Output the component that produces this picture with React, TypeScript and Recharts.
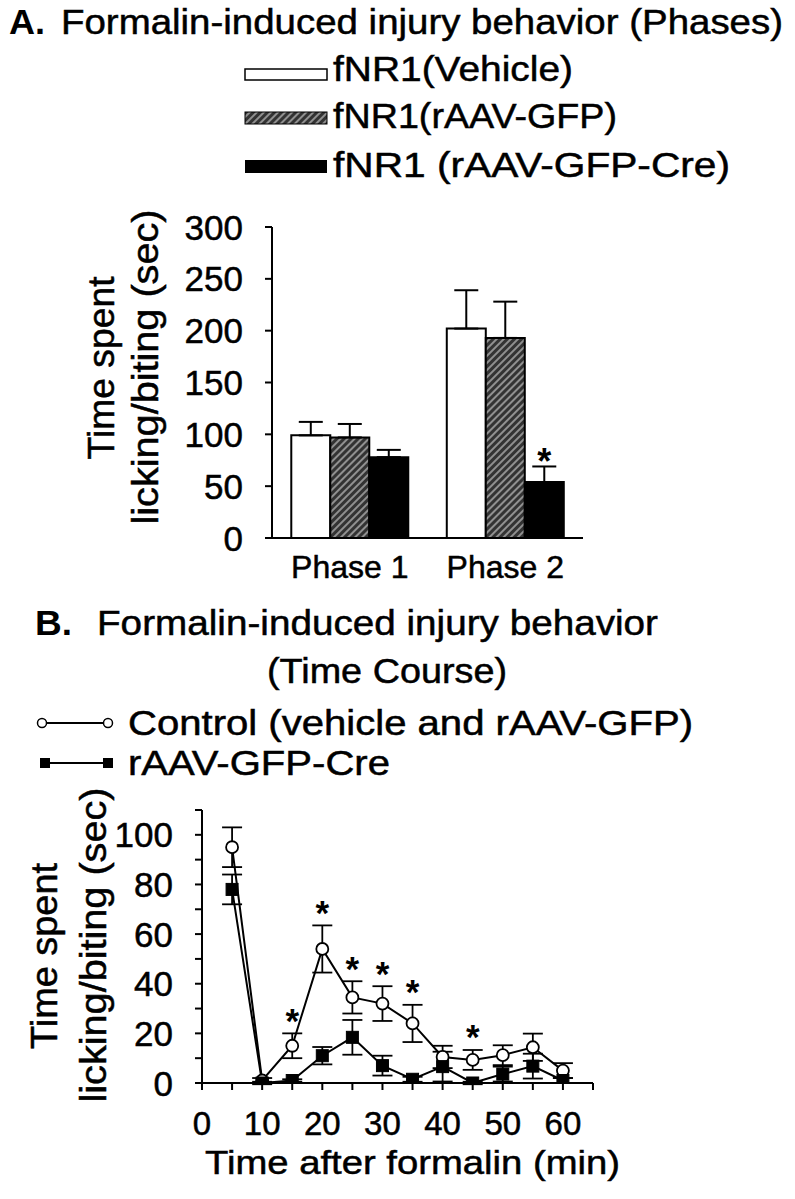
import React from 'react';
import { BarChart, ComposedChart, Bar, XAxis, YAxis, ErrorBar, LabelList, Line, Scatter } from 'recharts';

const FONT = '"Liberation Sans", Arial, Helvetica, sans-serif';

// ---------- Panel A data ----------
const phases = ['Phase 1', 'Phase 2'];
const vehicleMean = [99, 202];
const vehicleErr = [13, 37];
const gfpMean = [97, 193];
const gfpErr = [13, 35];
const creMean = [78, 54];
const creErr = [7, 15];
const creSig = [false, true];
const yTicksA = [0, 50, 100, 150, 200, 250, 300];

// ---------- Panel B data ----------
const times = [5, 10, 15, 20, 25, 30, 35, 40, 45, 50, 55, 60];
const controlMean = [95, 1, 15, 54, 34.5, 32, 24, 10.5, 9.3, 11.2, 14.4, 5];
const controlErr = [8, 1, 5, 9.5, 6.5, 7, 7.5, 4.5, 4, 4, 5.5, 3];
const controlSig = [false, false, true, true, true, true, true, false, true, false, false, false];
const creTMean = [78, 0, 1, 11, 18.4, 7, 1.5, 6.6, 0, 3.6, 6.8, 1];
const creTErr = [6, 0.5, 0.5, 3.5, 7, 4, 1, 6, 0.5, 3, 5, 1];
const xTicksB = [0, 5, 10, 15, 20, 25, 30, 35, 40, 45, 50, 55, 60, 65];
const xLabelsB = [0, 10, 20, 30, 40, 50, 60];
const yTicksB = [0, 10, 20, 30, 40, 50, 60, 70, 80, 90, 100, 110];
const yLabelsB = [0, 20, 40, 60, 80, 100];

const dataA = phases.map((p, i) => ({
  phase: p,
  vehicle: vehicleMean[i],
  vehicleE: [0, vehicleErr[i]],
  gfp: gfpMean[i],
  gfpE: [0, gfpErr[i]],
  cre: creMean[i],
  creE: [0, creErr[i]],
}));

const controlData = times.map((t, i) => ({ t, mean: controlMean[i], err: controlErr[i] }));
const creData = times.map((t, i) => ({ t, mean: creTMean[i], err: creTErr[i] }));
const starsB = times
  .map((t, i) => ({ t, top: controlMean[i] + controlErr[i], sig: controlSig[i] }))
  .filter((d) => d.sig);

const TXT_STROKE = 0.5;

const YTickA = (props: any) => {
  const { x, y, payload } = props;
  return (
    <text x={x} y={y + 12.5} textAnchor="end" fontSize={35} fontFamily={FONT} fill="#000" stroke="#000" strokeWidth={TXT_STROKE}>
      {payload.value}
    </text>
  );
};

const XTickA = (props: any) => {
  const { x, y, payload } = props;
  return (
    <text x={x} y={y + 32} textAnchor="middle" fontSize={32} fontFamily={FONT} fill="#000" stroke="#000" strokeWidth={TXT_STROKE}>
      {payload.value}
    </text>
  );
};

const YTickB = (props: any) => {
  const { x, y, payload } = props;
  if (!yLabelsB.includes(payload.value)) return null;
  return (
    <text x={x} y={y + 12.5} textAnchor="end" fontSize={35} fontFamily={FONT} fill="#000" stroke="#000" strokeWidth={TXT_STROKE}>
      {payload.value}
    </text>
  );
};

const XTickB = (props: any) => {
  const { x, y, payload } = props;
  if (!xLabelsB.includes(payload.value)) return null;
  return (
    <text x={x} y={y + 43} textAnchor="middle" fontSize={33} fontFamily={FONT} fill="#000" stroke="#000" strokeWidth={TXT_STROKE}>
      {payload.value}
    </text>
  );
};

const StarA = (props: any) => {
  const vb = props.viewBox || {};
  const x = props.x ?? vb.x;
  const y = props.y ?? vb.y;
  const width = props.width ?? vb.width;
  const height = props.height ?? vb.height;
  const index = props.index;
  if (!creSig[index]) return null;
  const value = creMean[index];
  const errPx = (creErr[index] * Math.abs(height)) / value;
  const cx = x + width / 2;
  const cy = Math.min(y, y + height) - errPx - 13;
  const fs = 36;
  return (
    <text x={cx} y={cy + 0.58 * fs} textAnchor="middle" fontSize={fs} fontWeight="bold" fontFamily={FONT} fill="#000">
      *
    </text>
  );
};

const StarB = (props: any) => {
  const { cx, cy } = props;
  const fs = 35;
  return (
    <text x={cx} y={cy - 21 + 0.58 * fs} textAnchor="middle" fontSize={fs} fontWeight="bold" fontFamily={FONT} fill="#000">
      *
    </text>
  );
};

const CircleDot = (props: any) => {
  const { cx, cy } = props;
  if (cx == null || cy == null) return null;
  return <circle cx={cx} cy={cy} r={6} fill="#fff" stroke="#000" strokeWidth={1.8} />;
};

const SquareDot = (props: any) => {
  const { cx, cy } = props;
  if (cx == null || cy == null) return null;
  return <rect x={cx - 6} y={cy - 6} width={12} height={12} fill="#000" stroke="#000" strokeWidth={1} />;
};

const T = (p: any) => {
  const { x, y, len, fs = 35, bold = false, anchor = 'start', rotate = false, children } = p;
  const common = {
    fontSize: fs,
    fontFamily: FONT,
    fontWeight: bold ? 'bold' : 'normal',
    textLength: len,
    lengthAdjust: 'spacingAndGlyphs',
    fill: '#000',
    stroke: bold ? 'none' : '#000',
    strokeWidth: TXT_STROKE,
  } as any;
  if (rotate) {
    return (
      <text transform={`translate(${x},${y}) rotate(-90)`} textAnchor="middle" {...common}>
        {children}
      </text>
    );
  }
  return (
    <text x={x} y={y} textAnchor={anchor} {...common}>
      {children}
    </text>
  );
};

export default function App() {
  return (
    <div style={{ position: 'absolute', left: 0, top: 0, width: 795, height: 1199, background: '#fff', overflow: 'hidden' }}>
      <svg width={0} height={0} style={{ position: 'absolute' }}>
        <defs>
          <pattern id="hatch" width={5} height={5} patternUnits="userSpaceOnUse" patternTransform="rotate(45)">
            <rect x={0} y={0} width={5} height={5} fill="#333" />
            <line x1={1} y1={0} x2={1} y2={5} stroke="#b8b8b8" strokeWidth={1.4} />
          </pattern>
        </defs>
      </svg>

      {/* Panel A chart */}
      <div style={{ position: 'absolute', left: 0, top: 0 }}>
        <BarChart
          width={795}
          height={600}
          data={dataA}
          margin={{ top: 227, right: 212, bottom: 32, left: 192 }}
          barCategoryGap="12.4%"
          barGap={0}
        >
          <XAxis
            dataKey="phase"
            height={30}
            axisLine={{ stroke: '#000', strokeWidth: 2 }}
            tickLine={false}
            tick={(p: any) => <XTickA {...p} />}
          />
          <YAxis
            width={80}
            domain={[0, 300]}
            ticks={yTicksA}
            interval={0}
            tickSize={7}
            tickMargin={22}
            axisLine={{ stroke: '#000', strokeWidth: 2 }}
            tickLine={{ stroke: '#000', strokeWidth: 2 }}
            tick={(p: any) => <YTickA {...p} />}
          />
          <Bar dataKey="vehicle" fill="#fff" stroke="#000" strokeWidth={2} isAnimationActive={false}>
            <ErrorBar dataKey="vehicleE" width={12} stroke="#000" strokeWidth={2} direction="y" />
          </Bar>
          <Bar dataKey="gfp" fill="url(#hatch)" stroke="#000" strokeWidth={2} isAnimationActive={false}>
            <ErrorBar dataKey="gfpE" width={12} stroke="#000" strokeWidth={2} direction="y" />
          </Bar>
          <Bar dataKey="cre" fill="#000" stroke="#000" strokeWidth={2} isAnimationActive={false}>
            <ErrorBar dataKey="creE" width={12} stroke="#000" strokeWidth={2} direction="y" />
            <LabelList dataKey="cre" content={(p: any) => <StarA {...p} />} />
          </Bar>
        </BarChart>
      </div>

      {/* Panel B chart */}
      <div style={{ position: 'absolute', left: 0, top: 700 }}>
        <ComposedChart width={795} height={499} margin={{ top: 110, right: 202, bottom: 86, left: 122 }}>
          <XAxis
            type="number"
            dataKey="t"
            height={30}
            domain={[0, 65]}
            ticks={xTicksB}
            interval={0}
            allowDataOverflow
            tickSize={7}
            tickMargin={2}
            axisLine={{ stroke: '#000', strokeWidth: 2 }}
            tickLine={{ stroke: '#000', strokeWidth: 2 }}
            tick={(p: any) => <XTickB {...p} />}
          />
          <YAxis
            width={80}
            type="number"
            domain={[0, 110]}
            ticks={yTicksB}
            interval={0}
            allowDataOverflow
            tickSize={7}
            tickMargin={22}
            axisLine={{ stroke: '#000', strokeWidth: 2 }}
            tickLine={{ stroke: '#000', strokeWidth: 2 }}
            tick={(p: any) => <YTickB {...p} />}
          />
          <Line
            data={controlData}
            dataKey="mean"
            stroke="#000"
            strokeWidth={2}
            dot={(p: any) => <CircleDot key={`c${p.index}`} {...p} />}
            isAnimationActive={false}
          >
            <ErrorBar dataKey="err" width={10} stroke="#000" strokeWidth={1.8} direction="y" />
          </Line>
          <Line
            data={creData}
            dataKey="mean"
            stroke="#000"
            strokeWidth={2}
            dot={(p: any) => <SquareDot key={`s${p.index}`} {...p} />}
            isAnimationActive={false}
          >
            <ErrorBar dataKey="err" width={10} stroke="#000" strokeWidth={1.8} direction="y" />
          </Line>
          <Scatter data={starsB} dataKey="top" shape={(p: any) => <StarB {...p} />} isAnimationActive={false} />
        </ComposedChart>
      </div>

      {/* Texts and legends */}
      <svg width={795} height={1199} style={{ position: 'absolute', left: 0, top: 0, pointerEvents: 'none' }}>
        {/* Panel A header */}
        <T x={9} y={34} len={36} bold>A.</T>
        <T x={61} y={34} len={722}>Formalin-induced injury behavior (Phases)</T>
        <rect x={245} y={69} width={82} height={11} fill="#fff" stroke="#000" strokeWidth={1.5} />
        <rect x={245} y={112} width={82} height={12} fill="url(#hatch)" stroke="#000" strokeWidth={1} />
        <rect x={245} y={160} width={82} height={13} fill="#000" />
        <T x={333} y={81} len={240}>fNR1(Vehicle)</T>
        <T x={333} y={128} len={284}>fNR1(rAAV-GFP)</T>
        <T x={333} y={177} len={397}>fNR1 (rAAV-GFP-Cre)</T>
        <T x={114} y={368} len={183} fs={36} rotate>Time spent</T>
        <T x={158} y={367} len={315} fs={36} rotate>licking/biting (sec)</T>

        {/* Panel B header */}
        <T x={35} y={635} len={37} bold>B.</T>
        <T x={97} y={635} len={561}>Formalin-induced injury behavior</T>
        <T x={267} y={683} len={240}>(Time Course)</T>
        <line x1={42} y1={723} x2={108} y2={723} stroke="#000" strokeWidth={2} />
        <circle cx={42} cy={723} r={4.5} fill="#fff" stroke="#000" strokeWidth={1.5} />
        <circle cx={108} cy={723} r={4.5} fill="#fff" stroke="#000" strokeWidth={1.5} />
        <T x={128} y={735} len={565}>Control (vehicle and rAAV-GFP)</T>
        <line x1={45} y1={763} x2={108} y2={763} stroke="#000" strokeWidth={2} />
        <rect x={40} y={758} width={10} height={10} fill="#000" />
        <rect x={103} y={758} width={10} height={10} fill="#000" />
        <T x={128} y={775} len={262}>rAAV-GFP-Cre</T>
        <T x={57} y={956} len={186} fs={36} rotate>Time spent</T>
        <T x={106} y={945} len={315} fs={36} rotate>licking/biting (sec)</T>
        <T x={205} y={1174} len={415} fs={34}>Time after formalin (min)</T>
      </svg>
    </div>
  );
}
